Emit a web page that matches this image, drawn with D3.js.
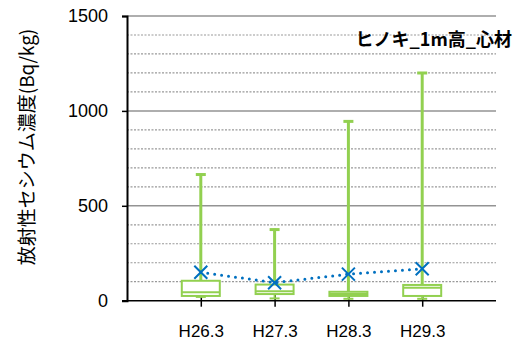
<!DOCTYPE html>
<html>
<head>
<meta charset="utf-8">
<script src="https://cdn.jsdelivr.net/npm/d3@7"></script>
<style>
  body { margin: 0; background: #fff; }
  text { font-family: "Liberation Sans", "Noto Sans CJK JP", sans-serif; }
</style>
</head>
<body>
<svg id="chart" width="527" height="342"></svg>
<script>
const categories = ["H26.3", "H27.3", "H28.3", "H29.3"];
const maxVals = [670, 380, 950, 1205];
const q3Vals = [105, 85, 47, 83];
const medianVals = [45, 50, 35, 68];
const q1Vals = [25, 35, 25, 25];
const minVals = [20, 12, 10, 10];
const meanVals = [150, 95, 140, 168];
const yTicks = [0, 500, 1000, 1500];

const svg = d3.select("#chart");
const plotL = 127, plotR = 496, plotT = 16, plotB = 300.7;
const green = "#92D050", blue = "#0070C0";

const x = d3.scaleLinear().domain([0, categories.length + 1]).range([plotL, plotR]);
const y = d3.scaleLinear().domain([0, 1500]).range([plotB, plotT]);

// gridlines
const minor = d3.range(100, 1501, 100).filter(v => v % 500 !== 0);
svg.append("g").selectAll("line").data(minor).enter().append("line")
    .attr("x1", plotL).attr("x2", plotR)
    .attr("y1", d => y(d)).attr("y2", d => y(d))
    .attr("stroke", "#999").attr("stroke-width", 1.2)
    .attr("stroke-dasharray", "2 1.5");
svg.append("g").selectAll("line").data(yTicks.slice(1)).enter().append("line")
    .attr("x1", plotL).attr("x2", plotR)
    .attr("y1", d => y(d)).attr("y2", d => y(d))
    .attr("stroke", "#939393").attr("stroke-width", 1.5);

// axes
const yAxis = svg.append("g").attr("transform", `translate(${plotL},0)`)
    .call(d3.axisLeft(y).tickValues(yTicks).tickFormat(d3.format("d")).tickSize(5).tickPadding(14));
yAxis.select(".domain").attr("stroke", "#000").attr("stroke-width", 2);
yAxis.selectAll(".tick line").attr("stroke", "#000").attr("stroke-width", 1.5);
yAxis.selectAll("text").attr("font-size", 18).attr("fill", "#000");

const xAxis = svg.append("g").attr("transform", `translate(0,${plotB})`)
    .call(d3.axisBottom(x).tickValues(d3.range(1, categories.length + 1))
      .tickFormat(i => categories[i - 1]).tickSize(6).tickPadding(18).tickSizeOuter(0));
xAxis.select(".domain").attr("d", `M${plotL - 5},0H${plotR}`)
    .attr("stroke", "#000").attr("stroke-width", 1.5);
xAxis.selectAll(".tick line").attr("y1", -6).attr("stroke", "#000").attr("stroke-width", 1.5);
xAxis.selectAll("text").attr("font-size", 17).attr("fill", "#000");

// boxes
const idx = d3.range(categories.length);
const bw = 38;
const g = svg.append("g");
g.selectAll(".whisker").data(idx).enter().append("line")
    .attr("x1", i => x(i + 1)).attr("x2", i => x(i + 1))
    .attr("y1", i => y(maxVals[i])).attr("y2", i => y(q3Vals[i]))
    .attr("stroke", green).attr("stroke-width", 3);
g.selectAll(".cap").data(idx).enter().append("line")
    .attr("x1", i => x(i + 1) - 5).attr("x2", i => x(i + 1) + 5)
    .attr("y1", i => y(maxVals[i]) + 1).attr("y2", i => y(maxVals[i]) + 1)
    .attr("stroke", green).attr("stroke-width", 3);
g.selectAll(".lowcap").data(idx).enter().append("line")
    .attr("x1", i => x(i + 1) - 5).attr("x2", i => x(i + 1) + 5)
    .attr("y1", i => y(minVals[i])).attr("y2", i => y(minVals[i]))
    .attr("stroke", green).attr("stroke-width", 2);
g.selectAll(".lowwhisker").data(idx).enter().append("line")
    .attr("x1", i => x(i + 1)).attr("x2", i => x(i + 1))
    .attr("y1", i => y(q1Vals[i])).attr("y2", i => y(minVals[i]))
    .attr("stroke", green).attr("stroke-width", 2);
g.selectAll(".box").data(idx).enter().append("rect")
    .attr("x", i => x(i + 1) - bw / 2).attr("width", bw)
    .attr("y", i => y(q3Vals[i])).attr("height", i => y(q1Vals[i]) - y(q3Vals[i]))
    .attr("fill", "#fff").attr("stroke", green).attr("stroke-width", 2);
g.selectAll(".median").data(idx).enter().append("line")
    .attr("x1", i => x(i + 1) - bw / 2).attr("x2", i => x(i + 1) + bw / 2)
    .attr("y1", i => y(medianVals[i])).attr("y2", i => y(medianVals[i]))
    .attr("stroke", green).attr("stroke-width", 2);

// mean line
svg.append("path").datum(idx)
    .attr("d", d3.line().x(i => x(i + 1)).y(i => y(meanVals[i])))
    .attr("fill", "none").attr("stroke", blue).attr("stroke-width", 3)
    .attr("stroke-linecap", "round").attr("stroke-dasharray", "0 7");
const s = 6.5;
svg.append("g").selectAll("path").data(idx).enter().append("path")
    .attr("d", i => {
      const cx = x(i + 1), cy = y(meanVals[i]);
      return `M${cx - s},${cy - s}L${cx + s},${cy + s}M${cx - s},${cy + s}L${cx + s},${cy - s}`;
    })
    .attr("stroke", blue).attr("stroke-width", 2).attr("fill", "none");

// titles
svg.append("text").attr("x", 512).attr("y", 46).attr("text-anchor", "end")
    .attr("font-size", 18).attr("font-weight", "bold")
    .style("font-family", "'Noto Sans CJK JP', sans-serif")
    .text("ヒノキ_1m高_心材");
svg.append("text")
    .attr("transform", `translate(34,147) rotate(-90)`)
    .attr("text-anchor", "middle").attr("font-size", 19)
    .style("font-family", "'Noto Sans CJK JP', sans-serif")
    .text("放射性セシウム濃度(Bq/kg)");
</script>
</body>
</html>
